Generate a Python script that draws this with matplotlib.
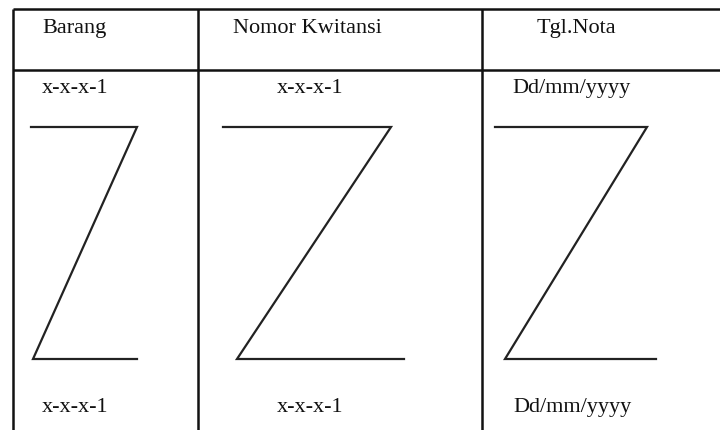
import matplotlib.pyplot as plt

# table layout (pixel coords, y measured from top)
col_edges = [13, 198, 482, 720]
row_edges = [9, 70, 430]

headers = ["Barang", "Nomor Kwitansi", "Tgl.Nota"]
header_x = [42, 233, 537]
header_base = 33

top_vals = ["x-x-x-1", "x-x-x-1", "Dd/mm/yyyy"]
top_x = [42, 277, 512]
top_base = 93

bottom_vals = ["x-x-x-1", "x-x-x-1", "Dd/mm/yyyy"]
bottom_x = [42, 277, 513]
bottom_base = 412

# Z marks: top-left, top-right, bottom-left, bottom-right x positions
z_top_left = [31, 223, 495]
z_top_right = [137, 391, 647]
z_bot_left = [33, 237, 505]
z_bot_right = [137, 404, 656]
z_top_y = 127
z_bot_y = 359

fig = plt.figure(figsize=(7.2, 4.3), dpi=100)
ax = fig.add_axes([0, 0, 1, 1])
ax.set_xlim(0, 720)
ax.set_ylim(430, 0)
ax.axis('off')

lw = 1.8
col = '#111111'

# grid lines
for y in row_edges[:2]:
    ax.plot([col_edges[0], col_edges[-1]], [y, y], color=col, lw=lw, solid_capstyle='butt')
for x in col_edges[:3]:
    ax.plot([x, x], [row_edges[0], row_edges[-1]], color=col, lw=lw, solid_capstyle='butt')

font = dict(family='Liberation Serif', fontsize=16, color='#111111', va='baseline', ha='left')

for txt, x in zip(headers, header_x):
    ax.text(x, header_base, txt, **font)
for txt, x in zip(top_vals, top_x):
    ax.text(x, top_base, txt, **font)
for txt, x in zip(bottom_vals, bottom_x):
    ax.text(x, bottom_base, txt, **font)

# the Z shapes
for tl, tr, bl, br in zip(z_top_left, z_top_right, z_bot_left, z_bot_right):
    ax.plot([tl, tr, bl, br], [z_top_y, z_top_y, z_bot_y, z_bot_y],
            color='#222222', lw=1.6, solid_joinstyle='miter')

fig.savefig('out.png', dpi=100)
